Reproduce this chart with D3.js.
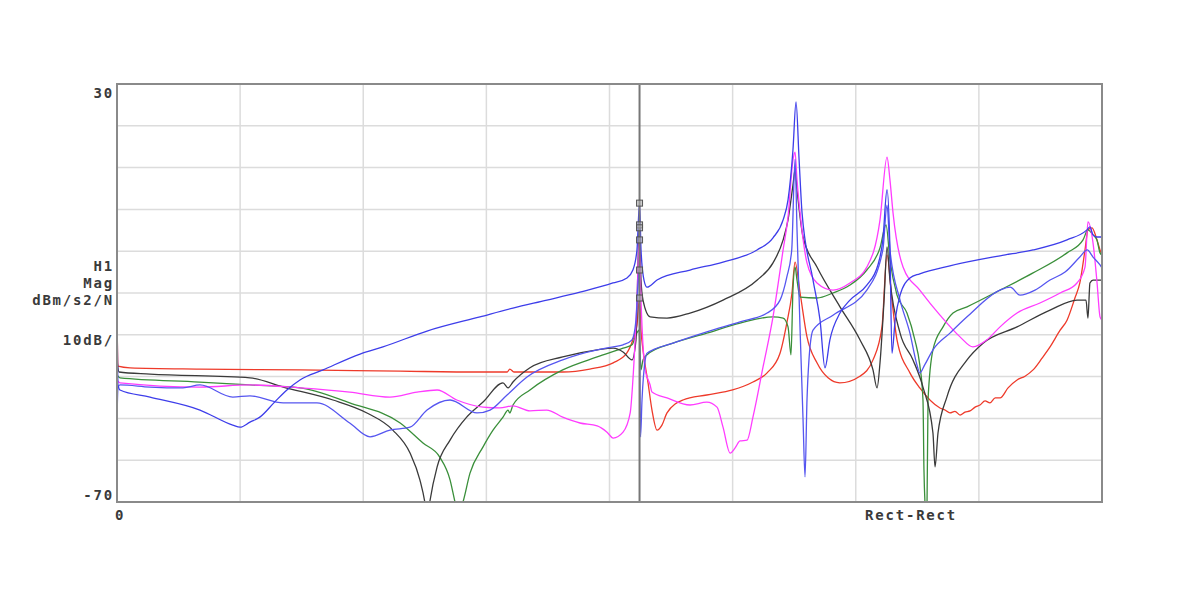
<!DOCTYPE html>
<html>
<head>
<meta charset="utf-8">
<script src="https://cdn.jsdelivr.net/npm/d3@7"></script>
<style>
    body { margin: 0; background: #fff; }
    .lbl { font-family: "DejaVu Sans Mono", monospace; font-size: 14px; font-weight: bold; fill: #3a3a3a; letter-spacing: 1.8px; }
    .grid line { stroke: #dcdcdc; stroke-width: 1.5; }
    .trace { fill: none; stroke-width: 1.3; }
</style>
</head>
<body>
<div id="chart"></div>
<script>
// frequency (0..800, 8 divisions) and H1 magnitude in dB
var xTicks = [0, 100, 200, 300, 400, 500, 600, 700, 800];
var yTicks = [-70, -60, -50, -40, -30, -20, -10, 0, 10, 20, 30];
var cursorFreq = 424.4;
var cursorMarks = [1.5, -3.7, -4.4, -7.3, -14.5, -21.2];

var red = [[0,-24.8],[0.8,-37.5],[10.6,-37.9],[67,-38.2],[149,-38.4],[230,-38.7],[295,-38.9],[317,-38.9],[319,-38.2],[322.4,-38.9],
    [362,-38.9],[384,-38.2],[403,-36.7],[414,-34.4],[419,-31.2],[422.3,-27.7],[424.4,-21.2],[425.6,-28.9],[427.2,-33.6],[431.3,-41.5],
    [434.5,-48],[438.6,-52.8],[442.6,-51.6],[446.7,-48.7],[459.7,-45.6],[479,-44.4],[500,-43.2],[516.5,-41.3],[528,-39.1],[538.5,-34.4],
    [544,-27.2],[548.2,-20],[550.7,-12.6],[554.8,-20],[560.4,-30.5],[568.5,-36.7],[577.5,-40.3],[587,-41.5],[603.4,-39.9],[614,-36],
    [621.3,-28.1],[625.4,-10.9],[629.4,-21.7],[633.5,-31.2],[644,-39.1],[652,-42.7],[668.4,-47.5],[672.5,-48],[676.5,-48.7],[680.6,-48.3],
    [684.7,-49.2],[688.7,-48.5],[692.8,-48.2],[696.9,-47.3],[700.9,-46.8],[705,-45.8],[709,-46.3],[713.3,-45.1],[717.2,-45.1],[723.7,-42.7],
    [731,-40.8],[737.5,-39.9],[744,-38.4],[751.3,-35.6],[757.8,-32.9],[766,-28.9],[771.6,-26.5],[778,-21.2],[782,-17.6],[786.2,-9.7],
    [788.6,-4.9],[791.9,-4.4],[795.9,-7.3],[798.4,-9.7],[800,-10.9]];

var black = [[0,-36],[1.6,-38.9],[26.8,-39.4],[108,-40.3],[135,-42.5],[175.4,-45.6],[203,-48.7],[224,-52.8],[238,-58.3],[246,-64.7],
    [250,-70],[252,-74],[254,-70],[260,-61.6],[270.5,-55.2],[284,-49.7],[297.3,-46.1],[313.5,-41.5],[317.6,-42.7],[321.6,-41.3],
    [335.4,-37.9],[362,-35.3],[390,-33.6],[403,-33.2],[411,-34.1],[418.3,-36],[421.5,-31.2],[424.2,-3.7],[425.6,-16.9],[427.2,-21.7],
    [433,-25.7],[446.7,-26],[465.4,-24.8],[492.2,-21.7],[520,-16.9],[532.8,-12.8],[541,-7.3],[545,-2.5],[549,5.8],[550.7,9.4],
    [552.3,4.7],[557.2,-6.6],[568.5,-13.8],[587.2,-23.3],[603.4,-31.2],[614,-38.4],[617.3,-42.7],[619.7,-36.7],[623,-21.7],[625.4,-9],
    [627.8,-16.9],[636,-29.6],[646.5,-36],[654.6,-42.5],[662.7,-53.5],[664.4,-61.6],[666.8,-53.5],[674,-44.9],[690.4,-36],[703.4,-32],
    [731,-28.1],[757.8,-24.1],[779.7,-21.7],[787,-21.7],[788.6,-26],[790.2,-17.6],[792.7,-16.9],[798.4,-16.9],[800,-16.9]];

var green = [[0,-39.6],[2.4,-40.3],[67,-41.3],[108,-42],[148.6,-42.7],[189,-46.3],[230,-51.1],[248.5,-55.9],[262,-59.2],[270.5,-64.7],
    [274.5,-70],[277,-73],[281,-70],[286.7,-63.1],[297.3,-56.8],[305.4,-52.8],[313.5,-49.7],[317.6,-48],[319,-48.7],[321.6,-46.8],
    [335.4,-43.2],[362,-38.4],[390,-35.3],[411,-33.2],[418.3,-32.4],[421.5,-30],[424,-28.9],[425.6,-38.4],[427.2,-36],[430.5,-34.8],
    [451.6,-32],[479,-29.6],[506,-27.2],[532.8,-25.7],[541,-26],[545,-28.1],[547.4,-34.8],[549,-19.3],[550.7,-13.8],[552.3,-16.9],
    [554.8,-21],[568.5,-21.2],[581.5,-20],[595.3,-18.1],[609,-14.5],[619.7,-9.2],[624.6,-3.7],[627.8,-12.1],[633.5,-20.5],[641.6,-24.8],
    [648,-31.2],[652,-37.2],[654.6,-45.6],[655.4,-62.3],[656.2,-70],[657,-73],[657.9,-70],[658.7,-45.6],[662.7,-33.6],[670.9,-28.1],
    [679,-24.8],[690.4,-23.3],[717.2,-19.3],[744,-15.2],[771.6,-10.4],[784.6,-7.3],[788.6,-4.9],[792.7,-6.1],[795.9,-7.3],[798.4,-10.4],
    [800,-10.9]];

var blueA = [[0,-21.7],[0.8,-42],[2.4,-43.2],[26.8,-44.9],[67.4,-48],[94,-51.6],[100,-52.1],[108,-50.9],[116,-49.7],[128,-46.1],
    [138,-43.2],[148.6,-40.8],[167.3,-38.4],[197.4,-34.6],[216,-32.9],[251.8,-29.1],[294.8,-25.7],[321.6,-23.6],[349.2,-21.7],[376,-19.8],
    [402.8,-17.6],[414.2,-16.4],[419,-14.5],[422.3,-9.7],[424.4,1.5],[425.6,-9.7],[428,-16.9],[430.5,-18.6],[438.6,-16.9],[465.4,-14.5],
    [492.2,-12.6],[519.8,-9.7],[532.8,-6.8],[541,-2.5],[545,2.3],[549,14.2],[551.5,25.7],[554,11.8],[556.4,-0.9],[565.3,-16.9],
    [571,-26.5],[575,-37.9],[579,-31.2],[587.2,-24.8],[595.3,-21.7],[609,-18.1],[618,-13.3],[622,-7.3],[625.4,4.7],[627.8,-9.7],
    [629.4,-34.4],[632,-26.5],[636,-20.5],[644,-16.4],[652,-15.4],[676.5,-13.5],[717.2,-11.1],[744,-9.7],[771.6,-7.3],[787.8,-4.9],
    [790.2,-4.2],[792.7,-6.1],[795.9,-6.6],[800,-6.6]];

var blueB = [[0,-50.4],[0.8,-42.7],[2.4,-42],[26.8,-42.5],[53.6,-42.7],[67.4,-42],[94,-44.9],[108,-44.6],[135,-46.3],[162.4,-46.3],
    [189,-51.1],[205.5,-54.4],[221.7,-52.8],[238,-52.1],[251.8,-48],[270.5,-45.6],[292.4,-48.7],[303,-48],[316.8,-44.4],[333,-40.1],
    [362,-36],[390,-33.6],[403,-32.9],[411,-32.4],[418.3,-31.2],[421.5,-26.5],[424,-14.5],[425.2,-54.4],[426.4,-45.6],[429,-36],
    [430.5,-34.4],[451.6,-32],[479,-29.3],[506,-26.9],[528,-24.8],[538.5,-21.7],[544,-16.2],[548,-9.7],[550.7,12],[552.3,-4.9],
    [554.8,-28.9],[557.2,-50.4],[558.8,-64],[560.4,-45.6],[562,-36],[565.3,-28.9],[581.5,-25.3],[609,-19.3],[622,-9.7],[625.4,1],
    [627.8,-9.7],[636,-21.7],[644,-29.6],[649.7,-37.2],[652,-39.1],[656,-37.2],[662.7,-33.6],[676.5,-29.6],[690.4,-25.7],[717.2,-19.3],
    [725.4,-18.6],[733.4,-20.5],[745.6,-19.3],[757.8,-16.9],[770,-15],[782,-11.4],[788,-9.7],[792.7,-11.4],[798.4,-13.3],[800,-14]];

var magenta = [[0,-40.8],[2.4,-41.5],[67.4,-42.5],[108,-42],[148.6,-42.7],[189,-43.7],[221.7,-44.9],[243.7,-43.7],[260,-43.2],[276,-45.6],
    [297.3,-47.3],[311,-47.5],[321.6,-47],[335.4,-48.2],[349,-48],[362,-49.7],[376,-51.1],[390,-51.8],[398,-53.3],[403,-54.7],
    [411,-53.3],[416.8,-48.7],[419,-40.8],[422.3,-21.7],[424.2,-7.3],[425.6,-21.7],[429,-38.4],[433,-42],[434.5,-43.7],[446.7,-45.1],
    [465.4,-46.8],[479,-46.1],[487.3,-47.3],[492.2,-52.1],[498,-58.3],[501.9,-57.1],[506,-55.4],[511.7,-55.2],[516.5,-49.7],[524.7,-37.7],
    [532.8,-25.7],[541,-9.7],[545,-1.8],[549,11.8],[550.7,13.7],[552.3,7],[554.8,-0.9],[560.4,-12.8],[568.5,-17.6],[581.5,-19.3],
    [595.3,-17.6],[609,-13.8],[619.7,-2.5],[625.4,12.5],[627.8,7],[630.3,-0.9],[638.4,-13.8],[652,-19.3],[668.4,-25.3],[684.7,-30.5],
    [695.2,-32.9],[706.6,-31.2],[717.2,-28.1],[731,-24.8],[749.6,-22.4],[766,-20],[779.7,-17.6],[786.2,-13.8],[788.6,-3],[792.7,-8],
    [796,-17.6],[798.4,-25.7],[800,-26.5]];

var traces = [
    {name: "red", color: "#ee3a2a", values: red},
    {name: "green", color: "#3a8f3a", values: green},
    {name: "black", color: "#3a3a3a", values: black},
    {name: "magenta", color: "#ff3cff", values: magenta},
    {name: "blueB", color: "#5656f0", values: blueB},
    {name: "blueA", color: "#3d3dea", values: blueA}
];

var width = 1200, height = 600;
var plot = {left: 117, right: 1102, top: 84, bottom: 502};

var x = d3.scaleLinear().domain([0, 800]).range([plot.left, plot.right]);
var y = d3.scaleLinear().domain([-70, 30]).range([plot.bottom, plot.top]);

var svg = d3.select("#chart").append("svg")
    .attr("width", width)
    .attr("height", height);

svg.append("defs").append("clipPath")
    .attr("id", "clip")
    .append("rect")
    .attr("x", plot.left)
    .attr("y", plot.top)
    .attr("width", plot.right - plot.left)
    .attr("height", plot.bottom - plot.top);

// grid
var grid = svg.append("g").attr("class", "grid");
grid.selectAll(".vx")
    .data(xTicks.slice(1, -1))
    .enter().append("line")
    .attr("x1", function(d) { return x(d); })
    .attr("x2", function(d) { return x(d); })
    .attr("y1", plot.top)
    .attr("y2", plot.bottom);
grid.selectAll(".hy")
    .data(yTicks.slice(1, -1))
    .enter().append("line")
    .attr("x1", plot.left)
    .attr("x2", plot.right)
    .attr("y1", function(d) { return y(d); })
    .attr("y2", function(d) { return y(d); });

// traces
var line = d3.line()
    .x(function(d) { return x(d[0]); })
    .y(function(d) { return y(d[1]); })
    .curve(d3.curveMonotoneX);

svg.append("g")
    .attr("clip-path", "url(#clip)")
    .selectAll(".trace")
    .data(traces)
    .enter().append("path")
    .attr("class", "trace")
    .attr("stroke", function(d) { return d.color; })
    .attr("d", function(d) { return line(d.values); });

// cursor
svg.append("line")
    .attr("x1", x(cursorFreq))
    .attr("x2", x(cursorFreq))
    .attr("y1", plot.top)
    .attr("y2", plot.bottom)
    .attr("stroke", "#777")
    .attr("stroke-width", 2);

svg.selectAll(".mark")
    .data(cursorMarks)
    .enter().append("rect")
    .attr("x", x(cursorFreq) - 3)
    .attr("y", function(d) { return y(d) - 3; })
    .attr("width", 6)
    .attr("height", 6)
    .attr("fill", "#aaa")
    .attr("fill-opacity", 0.6)
    .attr("stroke", "#555")
    .attr("stroke-width", 1);

// frame
svg.append("rect")
    .attr("x", plot.left)
    .attr("y", plot.top)
    .attr("width", plot.right - plot.left)
    .attr("height", plot.bottom - plot.top)
    .attr("fill", "none")
    .attr("stroke", "#8a8a8a")
    .attr("stroke-width", 2);

// labels
svg.append("text").attr("class", "lbl").attr("x", 114).attr("y", y(30) + 14)
    .attr("text-anchor", "end").text("30");
svg.append("text").attr("class", "lbl").attr("x", 114).attr("y", y(-70) - 2)
    .attr("text-anchor", "end").text("-70");
svg.append("text").attr("class", "lbl").attr("x", 114).attr("y", 271)
    .attr("text-anchor", "end").text("H1");
svg.append("text").attr("class", "lbl").attr("x", 114).attr("y", 288)
    .attr("text-anchor", "end").text("Mag");
svg.append("text").attr("class", "lbl").attr("x", 114).attr("y", 305)
    .attr("text-anchor", "end").text("dBm/s2/N");
svg.append("text").attr("class", "lbl").attr("x", 114).attr("y", 345)
    .attr("text-anchor", "end").text("10dB/");
svg.append("text").attr("class", "lbl").attr("x", x(0) + 3).attr("y", 520)
    .attr("text-anchor", "middle").text("0");
svg.append("text").attr("class", "lbl").attr("x", 865).attr("y", 520)
    .text("Rect-Rect");
</script>
</body>
</html>
